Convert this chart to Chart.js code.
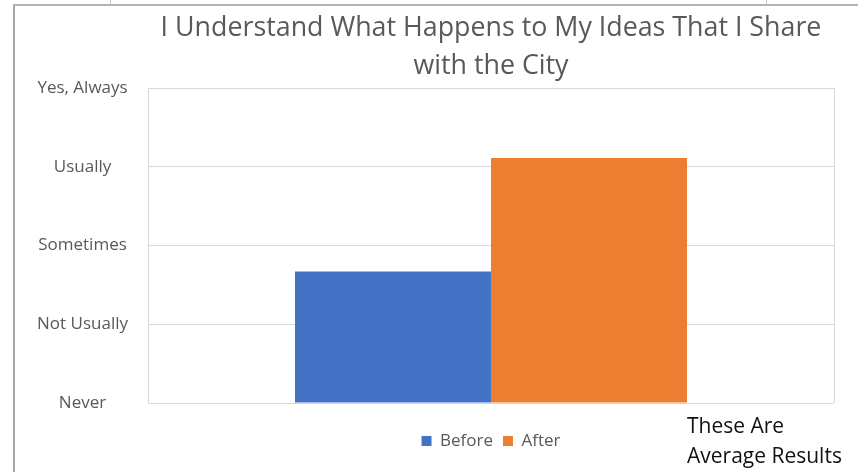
<!DOCTYPE html>
<html>
<head>
<meta charset="utf-8">
<script src="https://cdn.jsdelivr.net/npm/chart.js@4/dist/chart.umd.min.js"></script>
<style>
  html, body { margin: 0; padding: 0; background: #fff; }
  #wrap { position: relative; width: 858px; height: 472px; overflow: hidden; }
  #frame { position: absolute; left: 13px; top: 4px; right: -5px; bottom: -5px;
           border-left: 2px solid #a6a6a6; border-top: 2px solid #b4b4b4; }
  .stub { position: absolute; top: 0; width: 1px; height: 5px; background: #c8c8c8; }
  canvas { position: absolute; left: 0; top: 0; }
  #note { position: absolute; left: 687px; top: 410px; font: 21px "Open Sans", sans-serif;
          line-height: 30px; color: #111; }
</style>
</head>
<body>
<div id="wrap">
  <div class="stub" style="left:110px"></div>
  <div class="stub" style="left:766px"></div>
  <div id="frame"></div>
  <canvas id="chart" width="858" height="472"></canvas>
  <div id="note">These Are<br>Average Results</div>
</div>
<script>
const categories = [''];
const seriesNames = ['Before', 'After'];
const beforeValues = [1.67];
const afterValues = [3.11];
const levelLabels = ['Never', 'Not Usually', 'Sometimes', 'Usually', 'Yes, Always'];

const textColor = '#595959';
const gridColor = '#d9d9d9';

new Chart(document.getElementById('chart'), {
  type: 'bar',
  data: {
    labels: categories,
    datasets: [
      { label: seriesNames[0], data: beforeValues, backgroundColor: '#4472C4', barPercentage: 1, categoryPercentage: 0.5714 },
      { label: seriesNames[1], data: afterValues, backgroundColor: '#ED7D31', barPercentage: 1, categoryPercentage: 0.5714 }
    ]
  },
  options: {
    responsive: false,
    animation: false,
    layout: { padding: { left: 14, right: 24, top: 0, bottom: 12.5 } },
    scales: {
      x: {
        ticks: { display: false },
        grid: { color: gridColor, drawTicks: true, tickLength: 19.5, tickColor: 'transparent' },
        border: { display: false }
      },
      y: {
        min: 0,
        max: 4,
        afterFit(scale) { scale.width = 134; },
        ticks: {
          stepSize: 1,
          padding: 20,
          crossAlign: 'center',
          color: textColor,
          font: { family: 'Open Sans', size: 17 },
          callback: v => levelLabels[v]
        },
        grid: { color: gridColor, drawTicks: false },
        border: { display: false }
      }
    },
    plugins: {
      title: {
        display: true,
        fullSize: false,
        text: ['I Understand What Happens to My Ideas That I Share', 'with the City'],
        color: textColor,
        font: { family: 'Open Sans', size: 26.8, weight: 'normal', lineHeight: 1.418 },
        padding: { top: 9, bottom: 3 }
      },
      legend: {
        position: 'bottom',
        fullSize: false,
        labels: {
          boxWidth: 10,
          boxHeight: 10,
          padding: 10,
          color: textColor,
          font: { family: 'Open Sans', size: 17 }
        }
      },
      tooltip: { enabled: false }
    }
  }
});
</script>
</body>
</html>
